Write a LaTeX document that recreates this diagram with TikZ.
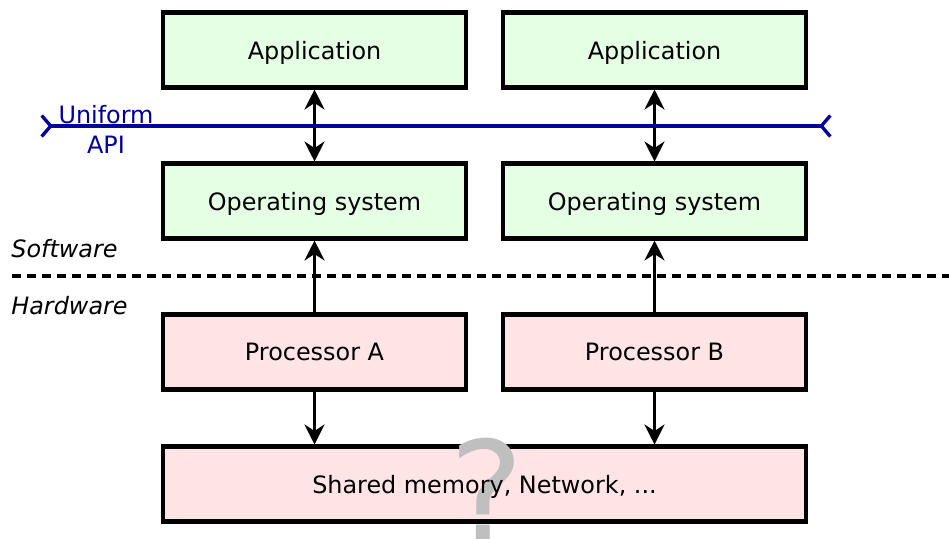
\documentclass[tikz,border=0pt]{standalone}
\usepackage{fontspec}
\setmainfont{DejaVu Sans}
\usetikzlibrary{arrows.meta}

\definecolor{softgreen}{RGB}{229,255,229}
\definecolor{hardpink}{RGB}{255,228,230}
\definecolor{apiblue}{RGB}{0,0,160}

\begin{document}
\begin{tikzpicture}[
			x=0.02cm, y=-0.02cm,
			every node/.style={font=\fontsize{13.6}{17}\selectfont, inner sep=0pt},
			block/.style={draw, line width=2.3pt, minimum width=6.06cm, minimum height=1.5cm, text depth=0pt},
			soft/.style={block, fill=softgreen},
			hard/.style={block, fill=hardpink},
			flow/.style={-{Stealth[length=4mm, width=4mm, inset=1.3mm]}, line width=1.8pt},
			both/.style={flow, {Stealth[length=4mm, width=4mm, inset=1.3mm]}-{Stealth[length=4mm, width=4mm, inset=1.3mm]}},
			layer/.style={font=\fontsize{13.6}{17}\selectfont\itshape, anchor=base west}
			]
			
			\useasboundingbox (0,0) rectangle (949,538);
			
			% software side
			\node[soft] (app-a) at (314.5,50) {Application};
			\node[soft] (app-b) at (654.5,50) {Application};
			\node[soft] (os-a) at (314.5,201) {Operating system};
			\node[soft] (os-b) at (654.5,201) {Operating system};
			
			% hardware side
			\node[hard] (proc-a) at (314.5,352) {Processor A};
			\node[hard] (proc-b) at (654.5,352) {Processor B};
			\node[hard, minimum width=12.86cm] (shared) at (484.5,484) {};
			\node[font=\fontsize{80}{80}\selectfont, text=black!25, anchor=base] (unknown) at (487,542) {?};
			\node[text depth=0pt] (shared-text) at (shared.center) {Shared memory, Network, ...};
			
			\draw[both] (app-a) -- (os-a);
			\draw[both] (app-b) -- (os-b);
			\draw[flow] (proc-a) -- (os-a);
			\draw[flow] (proc-b) -- (os-b);
			\draw[flow] (proc-a) -- (proc-a |- shared.north);
			\draw[flow] (proc-b) -- (proc-b |- shared.north);
			
			% uniform api
			\coordinate (api-w) at (40,126);
			\coordinate (api-e) at (832,126);
			\draw[apiblue, line width=1.9pt, {Straight Barb[reversed, length=1.8mm, width=4.2mm]}-{Straight Barb[reversed, length=1.8mm, width=4.2mm]}] (api-w) -- (api-e);
			\node[text=apiblue, align=center, font=\fontsize{13.6}{17}\selectfont] (api) at (106,129) {Uniform\\API};
			
			% software / hardware border
			\node[layer] (sw) at (11,257) {Software};
			\node[layer] (hw) at (11,314) {Hardware};
			\draw[line width=1.8pt, dash pattern=on 0.18cm off 0.12cm] (12,276) -- (949,276);
			
			\end{tikzpicture}
\end{document}
